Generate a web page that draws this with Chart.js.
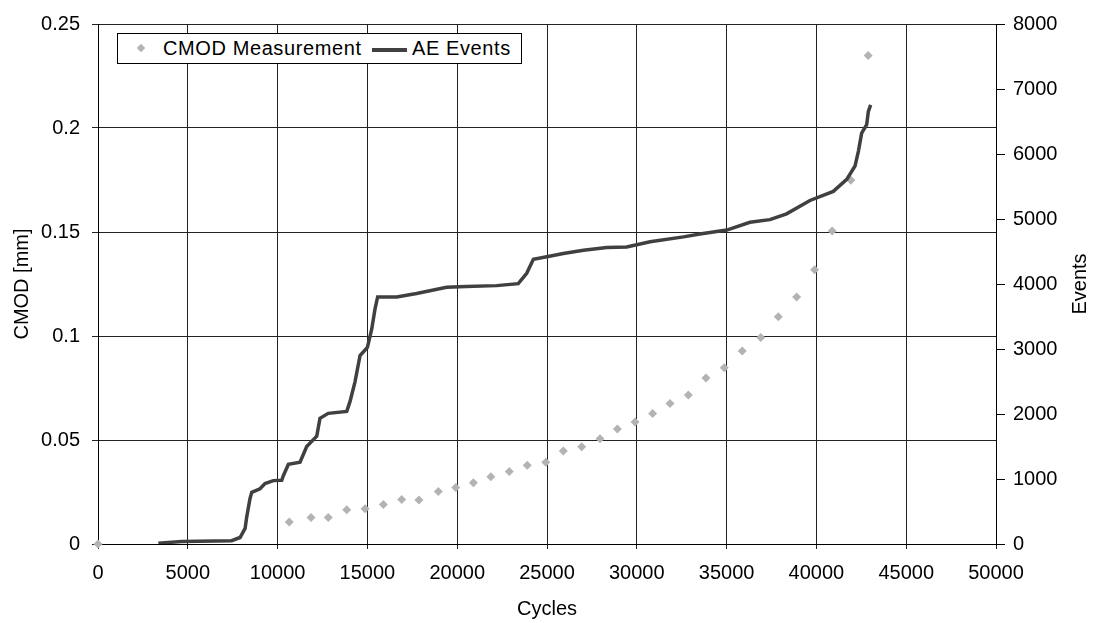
<!DOCTYPE html>
<html>
<head>
<meta charset="utf-8">
<script src="https://cdn.jsdelivr.net/npm/chart.js@4.4.1/dist/chart.umd.min.js"></script>
<style>
  html, body { margin: 0; padding: 0; background: #fff; }
  #wrap { position: relative; width: 1095px; height: 623px; }
  #legend {
    position: absolute; left: 117px; top: 33px; width: 403px; height: 29px;
    border: 1px solid #000; background: #fff;
    font-family: "Liberation Sans", Arial, sans-serif; font-size: 20px; letter-spacing: 0.6px; color: #000;
  }
  #legend .dia { position: absolute; left: 137px; top: 11px; width: 6px; height: 6px; background: #b3b3b3; transform: rotate(45deg); }
  #legend .lbl { position: absolute; top: 3px; line-height: 22px; white-space: nowrap; }
  #legend .ln { position: absolute; top: 14px; height: 4px; background: #404040; }
</style>
</head>
<body>
<div id="wrap">
  <canvas id="c" width="1095" height="623"></canvas>
  <div id="legend">
    <div class="dia" style="left:20px;"></div>
    <div class="lbl" style="left:45px;">CMOD Measurement</div>
    <div class="ln" style="left:254px; width:35px;"></div>
    <div class="lbl" style="left:294px;">AE Events</div>
  </div>
</div>
<script>
// CMOD measurements (left axis, mm)
const cmodCycles = [0, 10650, 11860, 12820, 13850, 14870, 15890, 16910, 17870, 18950, 19920, 20900, 21870, 22900, 23900, 24930, 25910, 26930, 27950, 28920, 29900, 30880, 31850, 32870, 33850, 34870, 35870, 36900, 37880, 38900, 39900, 40880, 41920, 42880];
const cmodValues = [0, 0.0106, 0.0127, 0.0127, 0.0165, 0.0170, 0.0190, 0.0214, 0.0212, 0.0253, 0.0272, 0.0295, 0.0323, 0.0348, 0.0379, 0.0393, 0.0447, 0.0468, 0.0506, 0.0553, 0.0586, 0.0627, 0.0676, 0.0716, 0.0798, 0.0847, 0.0928, 0.0993, 0.1093, 0.1188, 0.1318, 0.1505, 0.1749, 0.2348];

// AE events (right axis, cumulative count)
const aeCycles = [3360, 4660, 7440, 7910, 8190, 8280, 8460, 8560, 9020, 9300, 9760, 10230, 10320, 10600, 11250, 11620, 12180, 12360, 12820, 13850, 14030, 14310, 14590, 15000, 15240, 15420, 15570, 16630, 17740, 19410, 20500, 22200, 23400, 23870, 24240, 24990, 25910, 27030, 28330, 29440, 30740, 32600, 33510, 35010, 36300, 37410, 38340, 39640, 40940, 41690, 42150, 42340, 42520, 42800, 42890, 43020];
const aeEvents = [10, 40, 50, 100, 240, 415, 695, 795, 850, 930, 975, 980, 1050, 1225, 1260, 1500, 1660, 1935, 2010, 2040, 2190, 2495, 2900, 3025, 3305, 3610, 3800, 3800, 3855, 3950, 3960, 3975, 4005, 4165, 4380, 4420, 4470, 4520, 4560, 4570, 4650, 4725, 4770, 4830, 4950, 4990, 5080, 5285, 5425, 5610, 5815, 6045, 6320, 6450, 6650, 6755];

// Axis settings
const xTitle = 'Cycles';
const yLeftTitle = 'CMOD [mm]';
const yRightTitle = 'Events';
const xMax = 50000, xStep = 5000;
const yLeftMax = 0.25, yLeftStep = 0.05;
const yRightMax = 8000, yRightStep = 1000;

const FONT = '"Liberation Sans", Arial, sans-serif';
const tickFont = { family: FONT, size: 20 };

const rightTitlePlugin = {
  id: 'rightTitle',
  afterDraw(chart) {
    const ctx = chart.ctx;
    const a = chart.chartArea;
    ctx.save();
    ctx.font = '20px ' + FONT;
    ctx.fillStyle = '#000';
    ctx.textAlign = 'center';
    ctx.textBaseline = 'middle';
    ctx.translate(1080, (a.top + a.bottom) / 2);
    ctx.rotate(-Math.PI / 2);
    ctx.fillText(yRightTitle, 0, 0);
    ctx.restore();
  }
};

new Chart(document.getElementById('c'), {
  type: 'scatter',
  data: {
    datasets: [
      {
        label: 'AE Events',
        data: aeCycles.map((x, i) => ({ x, y: aeEvents[i] })),
        yAxisID: 'y2',
        showLine: true,
        borderColor: '#404040',
        borderWidth: 3.5,
        pointRadius: 0,
        tension: 0,
        order: 0
      },
      {
        label: 'CMOD Measurement',
        data: cmodCycles.map((x, i) => ({ x, y: cmodValues[i] })),
        yAxisID: 'y',
        pointStyle: 'rectRot',
        pointRadius: 4.5,
        backgroundColor: '#b3b3b3',
        borderColor: '#b3b3b3',
        borderWidth: 0,
        clip: false,
        order: 1
      }
    ]
  },
  options: {
    responsive: false,
    animation: false,
    devicePixelRatio: 1,
    layout: { padding: { top: 18, left: 0, right: 0, bottom: 0 } },
    plugins: { legend: { display: false }, tooltip: { enabled: false } },
    scales: {
      x: {
        type: 'linear', position: 'bottom', min: 0, max: xMax,
        ticks: { stepSize: xStep, font: tickFont, color: '#000', padding: 12, maxRotation: 0, callback: v => String(v) },
        grid: { color: '#222', lineWidth: 1, tickLength: 5 },
        border: { color: '#000', width: 1 },
        title: { display: true, text: xTitle, font: tickFont, color: '#000', padding: { top: 2, bottom: 2 } },
        afterFit(s) { s.height = 79; }
      },
      y: {
        type: 'linear', position: 'left', min: 0, max: yLeftMax,
        ticks: { stepSize: yLeftStep, font: tickFont, color: '#000', padding: 12, callback: v => String(+v.toFixed(2)) },
        grid: { color: '#222', lineWidth: 1, tickLength: 6 },
        border: { color: '#000', width: 1 },
        title: { display: true, text: yLeftTitle, font: tickFont, color: '#000', padding: { top: 10, bottom: 0 } },
        afterFit(s) { s.width = 98; }
      },
      y2: {
        type: 'linear', position: 'right', min: 0, max: yRightMax,
        ticks: { stepSize: yRightStep, font: tickFont, color: '#000', padding: 8, callback: v => String(v) },
        grid: { drawOnChartArea: false, color: '#000', tickLength: 9 },
        border: { color: '#000', width: 1 },
        afterFit(s) { s.width = 99; }
      }
    }
  },
  plugins: [rightTitlePlugin]
});
</script>
</body>
</html>
